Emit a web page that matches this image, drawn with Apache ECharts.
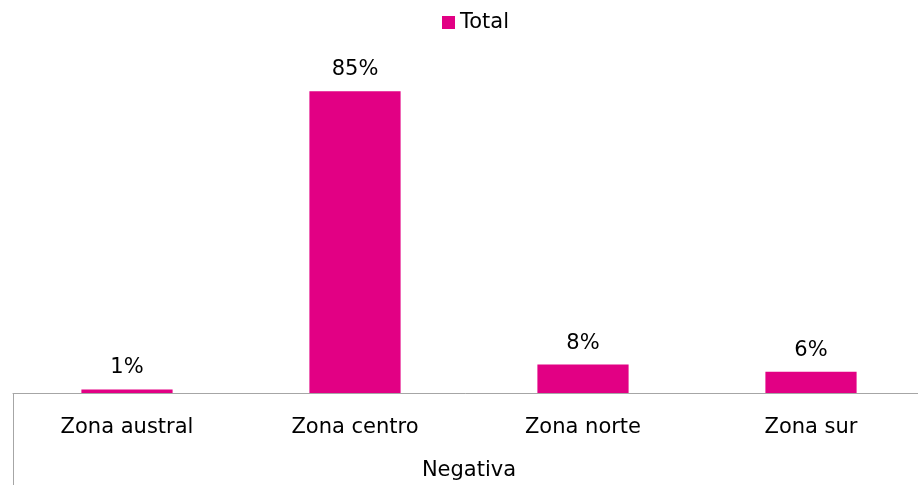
<!DOCTYPE html>
<html><head><meta charset="utf-8">
<script src="https://cdn.jsdelivr.net/npm/echarts@6/dist/echarts.min.js"></script>
<style>html,body{margin:0;padding:0;background:#fff}#c{width:918px;height:485px}</style>
</head><body><div id="c"></div>
<script>
const categories = ['Zona austral', 'Zona centro', 'Zona norte', 'Zona sur'];
const groupLabels = ['Negativa'];
const seriesName = 'Total';
const values = [1, 85, 8, 6];

const FONT = 'DejaVu Sans';
const chart = echarts.init(document.getElementById('c'));
chart.setOption({
  animation: false,
  textStyle: { fontFamily: FONT },
  legend: {
    data: [seriesName], top: 7, left: 437, itemWidth: 13, itemHeight: 13, itemGap: 6,
    icon: 'rect', textStyle: { fontSize: 21, color: '#000', fontFamily: FONT }
  },
  grid: { left: 13, width: 912, top: 38, height: 355, outerBoundsMode: 'none', containLabel: false },
  xAxis: [{
    type: 'category', data: categories, position: 'bottom',
    axisLine: { lineStyle: { color: '#A6A6A6', width: 1 } },
    axisTick: { show: false },
    axisLabel: { color: '#000', fontSize: 21, margin: 24, fontFamily: FONT }
  }, {
    type: 'category', data: groupLabels, position: 'bottom',
    axisLine: { show: false },
    axisTick: { show: true, length: 92, lineStyle: { color: '#A6A6A6' } },
    axisLabel: { color: '#000', fontSize: 21, margin: 67, fontFamily: FONT }
  }],
  yAxis: { type: 'value', min: 0, max: 100, show: false, splitLine: { show: false } },
  series: [{
    name: seriesName, type: 'bar', xAxisIndex: 0, data: values, barWidth: '40%',
    itemStyle: { color: '#E20084' },
    label: { show: true, position: 'top', distance: 11, formatter: '{c}%', color: '#000', fontSize: 21, fontFamily: FONT }
  }]
});
</script></body></html>
